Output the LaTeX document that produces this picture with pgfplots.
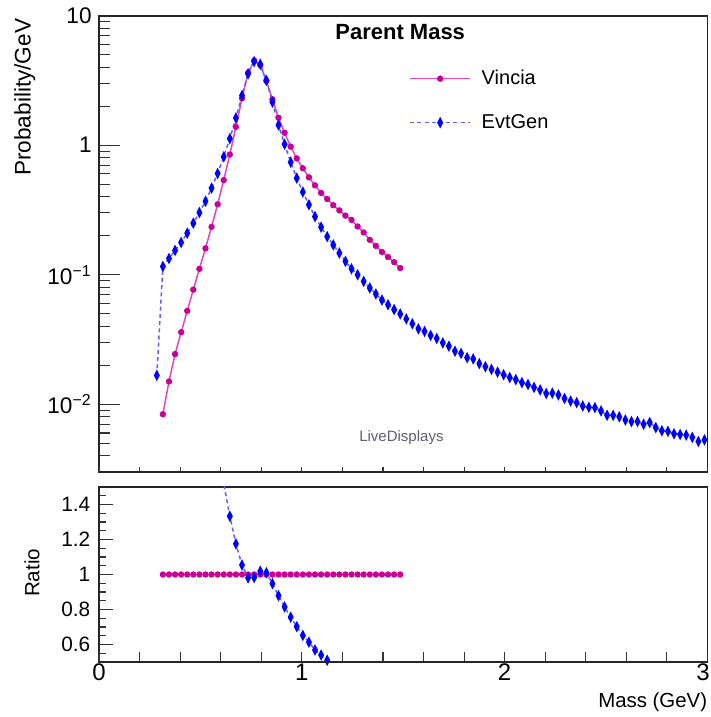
\documentclass[border=0pt]{standalone}
\usepackage{fontspec}
\setmainfont{Liberation Sans}
\usepackage{pgfplots}
\pgfplotsset{compat=1.18}

\definecolor{vinciaLine}{RGB}{226,70,190}
\definecolor{vinciaMark}{RGB}{200,0,150}
\definecolor{evtLine}{RGB}{95,95,255}
\definecolor{evtMark}{RGB}{0,0,255}
\definecolor{labelgray}{RGB}{95,95,110}

\pgfplotsset{
  vincia/.style={color=vinciaLine, line width=0.75pt, mark=*, mark size=1.2pt,
    mark options={solid, fill=vinciaMark, draw=vinciaMark}},
  evtgen/.style={color=evtLine, line width=0.75pt, dash pattern=on 2pt off 1.6pt,
    mark=diamond*, mark size=2.1pt,
    mark options={solid, fill=evtMark, draw=evtMark, xscale=0.68}},
  frame/.style={scale only axis, width=304.25pt, xmin=0, xmax=3,
    axis line style={line width=0.9pt, black!85},
    tick style={black!80, line width=0.55pt}, tick align=inside},
}

\begin{document}
\begin{tikzpicture}
\useasboundingbox (0,0) rectangle (355.5pt,358.5pt);

% ---------- upper pad: mass spectra ----------
\begin{axis}[frame,
  at={(49.5pt,122.5pt)}, anchor=south west, height=228.15pt,
  ymode=log, ymin=0.003, ymax=10,
  xtick=\empty,
  ytick={0.01,0.1,1,10},
  yticklabels={10\textsuperscript{−2},10\textsuperscript{−1},1,10},
  minor ytick={0.003,0.004,0.005,0.006,0.007,0.008,0.009,
               0.02,0.03,0.04,0.05,0.06,0.07,0.08,0.09,
               0.2,0.3,0.4,0.5,0.6,0.7,0.8,0.9,
               2,3,4,5,6,7,8,9},
  ytick pos=left,
  major tick length=10.35pt, minor tick length=5.3pt,
  yticklabel style={font=\fontsize{11.3}{13}\selectfont, inner sep=0pt, xshift=-3.5pt},
  ylabel={Probability/GeV},
  ylabel style={at={(rel axis cs:-0.104,0.994)}, anchor=south east, inner sep=0pt,
    font=\fontsize{11.3}{13}\selectfont},
  legend cell align=left,
  legend image code/.code={\draw[mark repeat=2,mark phase=2]
    plot coordinates {(0pt,0pt) (15pt,0pt) (30pt,0pt)};},
  legend style={draw=none, fill=none, at={(rel axis cs:0.5095,0.896)}, anchor=north west,
    inner sep=0pt, row sep=7pt, font=\fontsize{10}{12}\selectfont,
    nodes={inner sep=3.2pt},
    /tikz/every odd column/.append style={column sep=2.2pt}},
]
\addplot[vincia] table {
0.315 0.00838
0.345 0.0150
0.375 0.0244
0.405 0.0360
0.435 0.0526
0.465 0.0767
0.495 0.111
0.525 0.160
0.555 0.234
0.585 0.350
0.615 0.538
0.645 0.848
0.675 1.384
0.705 2.30
0.735 3.62
0.765 4.50
0.795 4.15
0.825 3.14
0.855 2.26
0.885 1.63
0.915 1.248
0.945 0.975
0.975 0.791
1.005 0.664
1.035 0.565
1.065 0.490
1.095 0.428
1.125 0.384
1.155 0.344
1.185 0.314
1.215 0.286
1.245 0.265
1.275 0.236
1.305 0.212
1.335 0.186
1.365 0.167
1.395 0.150
1.425 0.137
1.455 0.125
1.485 0.1125
};
\addlegendentry{Vincia}
\addplot[evtgen] table {
0.285 0.0167
0.315 0.1159
0.345 0.1335
0.375 0.1540
0.405 0.1774
0.435 0.2094
0.465 0.2500
0.495 0.302
0.525 0.369
0.555 0.467
0.585 0.605
0.615 0.813
0.645 1.125
0.675 1.622
0.705 2.42
0.735 3.56
0.765 4.43
0.795 4.22
0.825 3.17
0.855 2.15
0.885 1.43
0.915 1.018
0.945 0.740
0.975 0.557
1.005 0.435
1.035 0.347
1.065 0.281
1.095 0.233
1.125 0.197
1.155 0.170
1.185 0.147
1.215 0.1268
1.245 0.1112
1.275 0.1000
1.305 0.0889
1.335 0.0791
1.365 0.0710
1.395 0.0638
1.425 0.0587
1.455 0.0538
1.485 0.0498
1.515 0.0456
1.545 0.0418
1.575 0.0382
1.605 0.0365
1.635 0.0340
1.665 0.0322
1.695 0.0298
1.725 0.0281
1.755 0.0257
1.785 0.0247
1.815 0.0229
1.845 0.0224
1.875 0.0206
1.905 0.0195
1.935 0.0186
1.965 0.0177
1.995 0.0169
2.025 0.0161
2.055 0.0155
2.085 0.0147
2.115 0.0142
2.145 0.0135
2.175 0.0129
2.205 0.0121
2.235 0.0122
2.265 0.0118
2.295 0.0111
2.325 0.0106
2.355 0.0103
2.385 0.0097
2.415 0.00948
2.445 0.00942
2.475 0.00889
2.505 0.00822
2.535 0.00822
2.565 0.00800
2.595 0.00757
2.625 0.00736
2.655 0.00736
2.685 0.00701
2.715 0.00723
2.745 0.00661
2.775 0.00624
2.805 0.00617
2.835 0.00592
2.865 0.00585
2.895 0.00578
2.925 0.00555
2.955 0.00516
2.985 0.00531
};
\addlegendentry{EvtGen}
\node[font=\bfseries\fontsize{11}{13}\selectfont] at (rel axis cs:0.495,0.965) {Parent Mass};
\node[font=\fontsize{7.5}{9}\selectfont, text=labelgray] at (rel axis cs:0.497,0.0745) {LiveDisplays};
\end{axis}

% x ticks of the upper pad (short, no labels)
\begin{axis}[frame,
  at={(49.5pt,122.5pt)}, anchor=south west, height=228.15pt,
  ymin=0, ymax=1, ytick=\empty, axis y line=none, axis x line*=bottom,
  xtick={0,1,2,3}, xticklabels={},
  minor xtick={0.2,0.4,0.6,0.8,1.2,1.4,1.6,1.8,2.2,2.4,2.6,2.8},
  xtick align=inside, major tick length=2.4pt, minor tick length=2.4pt,
]
\end{axis}

% ---------- lower pad: ratio ----------
\begin{axis}[frame,
  at={(49.5pt,27.5pt)}, anchor=south west, height=87.5pt,
  ymin=0.5, ymax=1.5,
  xtick=\empty,
  ytick={0.6,0.8,1,1.2,1.4},
  yticklabels={0.6,0.8,1,1.2,1.4},
  minor ytick={0.55,0.65,0.7,0.75,0.85,0.9,0.95,1.05,1.1,1.15,1.25,1.3,1.35,1.45},
  ytick pos=left,
  major tick length=7pt, minor tick length=3.5pt,
  yticklabel style={font=\fontsize{10.4}{12}\selectfont, inner sep=0pt, xshift=-4.2pt},
  ylabel={Ratio},
  ylabel style={at={(rel axis cs:-0.097,0.509)}, anchor=south, inner sep=0pt,
    font=\fontsize{10.3}{12}\selectfont},
]
\addplot[vincia] table {
0.315 1
0.345 1
0.375 1
0.405 1
0.435 1
0.465 1
0.495 1
0.525 1
0.555 1
0.585 1
0.615 1
0.645 1
0.675 1
0.705 1
0.735 1
0.765 1
0.795 1
0.825 1
0.855 1
0.885 1
0.915 1
0.945 1
0.975 1
1.005 1
1.035 1
1.065 1
1.095 1
1.125 1
1.155 1
1.185 1
1.215 1
1.245 1
1.275 1
1.305 1
1.335 1
1.365 1
1.395 1
1.425 1
1.455 1
1.485 1
};
\addplot[evtgen] table {
0.315 13.8
0.345 8.9
0.375 6.3
0.405 4.9
0.435 3.98
0.465 3.26
0.495 2.73
0.525 2.30
0.555 2.00
0.585 1.73
0.615 1.52
0.645 1.333
0.675 1.175
0.705 1.054
0.735 0.981
0.765 0.983
0.795 1.019
0.825 1.010
0.855 0.948
0.885 0.879
0.915 0.815
0.945 0.756
0.975 0.702
1.005 0.652
1.035 0.613
1.065 0.569
1.095 0.540
1.125 0.510
1.155 0.494
1.185 0.468
1.215 0.443
1.245 0.420
1.275 0.425
1.305 0.420
1.335 0.426
1.365 0.425
1.395 0.425
1.425 0.430
1.455 0.430
1.485 0.443
};
\end{axis}

% x ticks and labels of the lower pad
\begin{axis}[frame,
  at={(49.5pt,27.5pt)}, anchor=south west, height=87.5pt,
  ymin=0, ymax=1, ytick=\empty, axis y line=none, axis x line*=bottom,
  xtick={0,1,2,3}, xticklabels={0,1,2,\makebox[0pt]{\kern-4.5pt 3}},
  minor xtick={0.2,0.4,0.6,0.8,1.2,1.4,1.6,1.8,2.2,2.4,2.6,2.8},
  xtick align=inside, major tick length=5pt, minor tick length=5pt,
  xticklabel style={font=\fontsize{12}{14}\selectfont, inner sep=0pt, yshift=-0.8pt},
  xlabel={Mass (GeV)},
  xlabel style={at={(rel axis cs:1,0)}, anchor=north east, inner sep=0pt, yshift=-15pt,
    font=\fontsize{10.2}{12}\selectfont},
]
\end{axis}
\end{tikzpicture}
\end{document}
